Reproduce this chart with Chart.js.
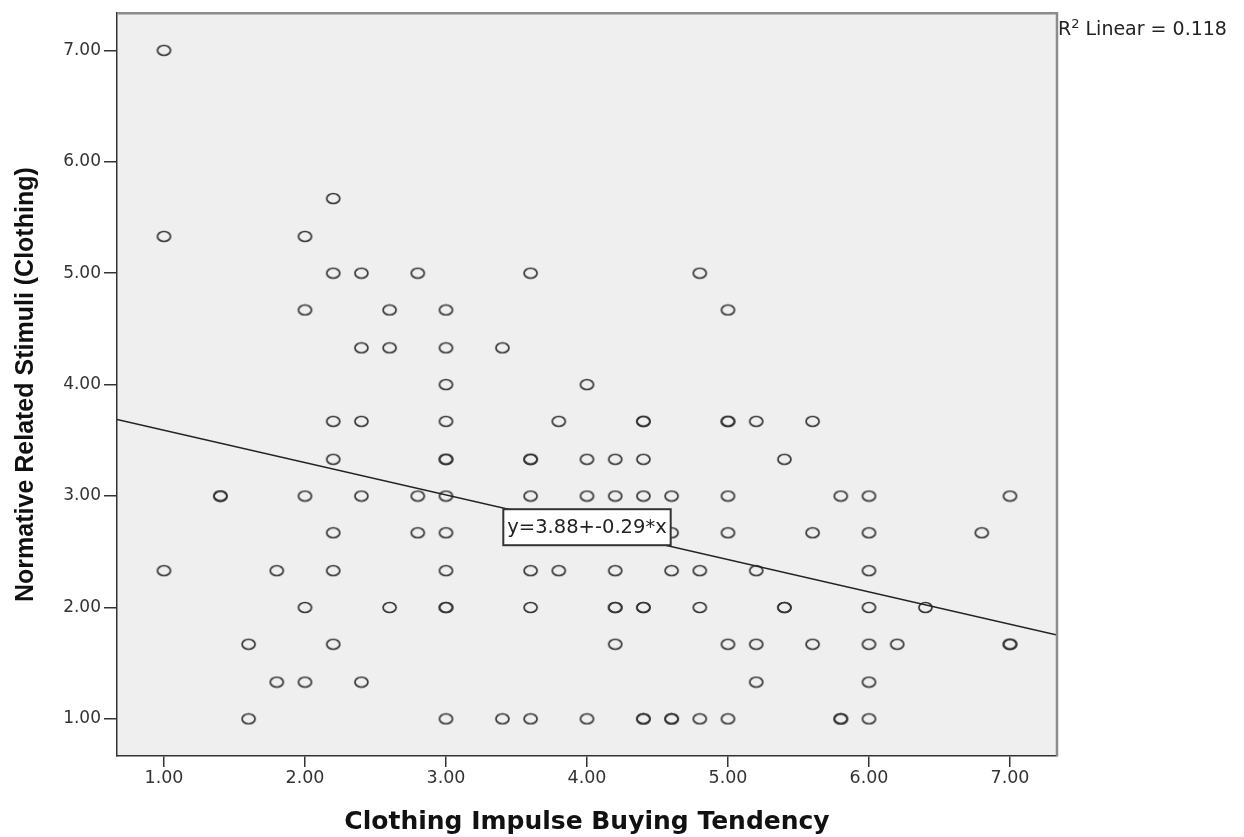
<!DOCTYPE html>
<html>
<head>
<meta charset="utf-8">
<title>Clothing Impulse Buying Tendency vs Normative Related Stimuli</title>
<script src="https://cdn.jsdelivr.net/npm/chart.js@4.4.1/dist/chart.umd.min.js"></script>
<style>
    html, body { margin: 0; padding: 0; background: #ffffff; }
    #scatter { display: block; }
</style>
</head>
<body>
<canvas id="scatter" width="1244" height="837"></canvas>
<script>
// ========================================
// DATA
// ========================================
const xTickValues = [1, 2, 3, 4, 5, 6, 7];
const xTickLabels = ['1.00', '2.00', '3.00', '4.00', '5.00', '6.00', '7.00'];
const yTickValues = [1, 2, 3, 4, 5, 6, 7];
const yTickLabels = ['1.00', '2.00', '3.00', '4.00', '5.00', '6.00', '7.00'];

// each row of stimuli scores, with the impulse scores that sit on it
// (a value listed twice is a doubled / darker marker)
const stimuliLevels = [7.00, 5.67, 5.33, 5.00, 4.67, 4.33, 4.00, 3.67,
                       3.33, 3.00, 2.67, 2.33, 2.00, 1.67, 1.33, 1.00];
const impulseAtLevel = [
    [1.0],
    [2.2],
    [1.0, 2.0],
    [2.2, 2.4, 2.8, 3.6, 4.8],
    [2.0, 2.6, 3.0, 5.0],
    [2.4, 2.6, 3.0, 3.4],
    [3.0, 4.0],
    [2.2, 2.4, 3.0, 3.8, 4.4, 4.4, 5.0, 5.0, 5.2, 5.6],
    [2.2, 3.0, 3.0, 3.6, 3.6, 4.0, 4.2, 4.4, 5.4],
    [1.4, 1.4, 2.0, 2.4, 2.8, 3.0, 3.6, 4.0, 4.2, 4.4, 4.6, 5.0, 5.8, 6.0, 7.0],
    [2.2, 2.8, 3.0, 4.6, 5.0, 5.6, 6.0, 6.8],
    [1.0, 1.8, 2.2, 3.0, 3.6, 3.8, 4.2, 4.6, 4.8, 5.2, 6.0],
    [2.0, 2.6, 3.0, 3.0, 3.6, 4.2, 4.2, 4.4, 4.4, 4.8, 5.4, 5.4, 6.0, 6.4],
    [1.6, 2.2, 4.2, 5.0, 5.2, 5.6, 6.0, 6.2, 7.0, 7.0],
    [1.8, 2.0, 2.4, 5.2, 6.0],
    [1.6, 3.0, 3.4, 3.6, 4.0, 4.4, 4.4, 4.6, 4.6, 4.8, 5.0, 5.8, 5.8, 6.0]
];

// fit line as printed on the chart
const fitIntercept = 3.88;
const fitSlope = -0.29;
const fitLabel = 'y=3.88+-0.29*x';
const fitLabelAt = { x: 4.0, y: 2.72 };
const rSquaredText = ' Linear = 0.118';

const axisMin = 2 / 3;
const axisMax = 22 / 3;

// ========================================
// HELPERS
// ========================================
function buildPoints() {
    const pts = [];
    stimuliLevels.forEach((y, i) => {
        impulseAtLevel[i].forEach(x => pts.push({ x: x, y: y }));
    });
    return pts;
}

function buildFitLine() {
    return [axisMin, axisMax].map(x => ({ x: x, y: fitIntercept + fitSlope * x }));
}

function makeRingMarker() {
    const c = document.createElement('canvas');
    c.width = 17;
    c.height = 13;
    const g = c.getContext('2d');
    g.strokeStyle = '#353535';
    g.lineWidth = 1.7;
    g.beginPath();
    g.ellipse(8.5, 6.5, 6.5, 5.0, 0, 0, Math.PI * 2);
    g.stroke();
    return c;
}

// ========================================
// PLUGINS
// ========================================
const plotBackground = {
    id: 'plotBackground',
    beforeDraw(chart) {
        const { ctx, chartArea: a } = chart;
        ctx.save();
        ctx.fillStyle = '#ffffff';
        ctx.fillRect(0, 0, chart.width, chart.height);
        ctx.fillStyle = '#efefef';
        ctx.fillRect(a.left, a.top, a.right - a.left, a.bottom - a.top);
        ctx.restore();
    }
};

const frameAndLabels = {
    id: 'frameAndLabels',
    afterDraw(chart) {
        const { ctx, chartArea: a, scales } = chart;
        ctx.save();

        // grey top / right edges of the frame
        ctx.strokeStyle = '#8c8c8c';
        ctx.lineWidth = 2.5;
        ctx.beginPath();
        ctx.moveTo(a.left, a.top);
        ctx.lineTo(a.right, a.top);
        ctx.lineTo(a.right, a.bottom);
        ctx.stroke();

        // equation box
        const cx = scales.x.getPixelForValue(fitLabelAt.x);
        const cy = scales.y.getPixelForValue(fitLabelAt.y);
        ctx.font = '19.5px "DejaVu Sans"';
        const w = ctx.measureText(fitLabel).width + 8;
        const h = 36;
        ctx.fillStyle = '#ffffff';
        ctx.fillRect(cx - w / 2, cy - h / 2, w, h);
        ctx.strokeStyle = '#333333';
        ctx.lineWidth = 2;
        ctx.strokeRect(cx - w / 2, cy - h / 2, w, h);
        ctx.fillStyle = '#222222';
        ctx.textAlign = 'center';
        ctx.textBaseline = 'middle';
        ctx.fillText(fitLabel, cx, cy + 1);

        // R² note outside the plot
        ctx.textAlign = 'left';
        ctx.textBaseline = 'alphabetic';
        let x = a.right + 1;
        const base = a.top + 22;
        ctx.font = '19px "DejaVu Sans"';
        ctx.fillText('R', x, base);
        x += ctx.measureText('R').width;
        ctx.font = '13px "DejaVu Sans"';
        ctx.fillText('2', x, base - 7);
        x += ctx.measureText('2').width;
        ctx.font = '19px "DejaVu Sans"';
        ctx.fillText(rSquaredText, x, base);

        ctx.restore();
    }
};

// ========================================
// RENDER CHART
// ========================================
function renderChart() {
    const ctx = document.getElementById('scatter').getContext('2d');

    new Chart(ctx, {
        type: 'scatter',
        data: {
            datasets: [
                {
                    label: 'Linear fit',
                    data: buildFitLine(),
                    showLine: true,
                    borderColor: '#222222',
                    borderWidth: 1.5,
                    pointRadius: 0
                },
                {
                    label: 'Observed',
                    data: buildPoints(),
                    pointStyle: makeRingMarker(),
                    pointRadius: 7
                }
            ]
        },
        options: {
            responsive: false,
            animation: false,
            devicePixelRatio: 1,
            layout: { padding: { top: 11, right: 187, left: 0, bottom: 0 } },
            plugins: {
                legend: { display: false },
                tooltip: { enabled: false }
            },
            scales: {
                x: {
                    type: 'linear',
                    min: axisMin,
                    max: axisMax,
                    afterBuildTicks: s => { s.ticks = xTickValues.map(v => ({ value: v })); },
                    afterFit: s => { s.height = 81; },
                    ticks: {
                        callback: (v, i) => xTickLabels[i],
                        font: { family: 'DejaVu Sans', size: 17.5 },
                        color: '#333333',
                        padding: 1,
                        maxRotation: 0
                    },
                    grid: {
                        drawOnChartArea: false,
                        drawTicks: true,
                        tickLength: 11,
                        color: '#333333',
                        lineWidth: 1.5
                    },
                    border: { display: true, color: '#333333', width: 1.5 },
                    title: {
                        display: true,
                        text: 'Clothing Impulse Buying Tendency',
                        font: { family: 'DejaVu Sans', size: 25, weight: 'bold' },
                        color: '#111111',
                        padding: { top: 0, bottom: 0 }
                    }
                },
                y: {
                    type: 'linear',
                    min: axisMin,
                    max: axisMax,
                    afterBuildTicks: s => { s.ticks = yTickValues.map(v => ({ value: v })); },
                    afterFit: s => { s.width = 117; },
                    ticks: {
                        callback: (v, i) => yTickLabels[i],
                        font: { family: 'DejaVu Sans', size: 17 },
                        color: '#333333',
                        padding: 3
                    },
                    grid: {
                        drawOnChartArea: false,
                        drawTicks: true,
                        tickLength: 13,
                        color: '#333333',
                        lineWidth: 1.5
                    },
                    border: { display: true, color: '#333333', width: 1.5 },
                    title: {
                        display: true,
                        text: 'Normative Related Stimuli (Clothing)',
                        font: { family: 'Liberation Sans', size: 25, weight: 'bold' },
                        color: '#111111',
                        padding: { top: 11, bottom: 0 }
                    }
                }
            }
        },
        plugins: [plotBackground, frameAndLabels]
    });
}

// ========================================
// INITIALIZE
// ========================================
document.addEventListener('DOMContentLoaded', function() {
    renderChart();
});
</script>
</body>
</html>
